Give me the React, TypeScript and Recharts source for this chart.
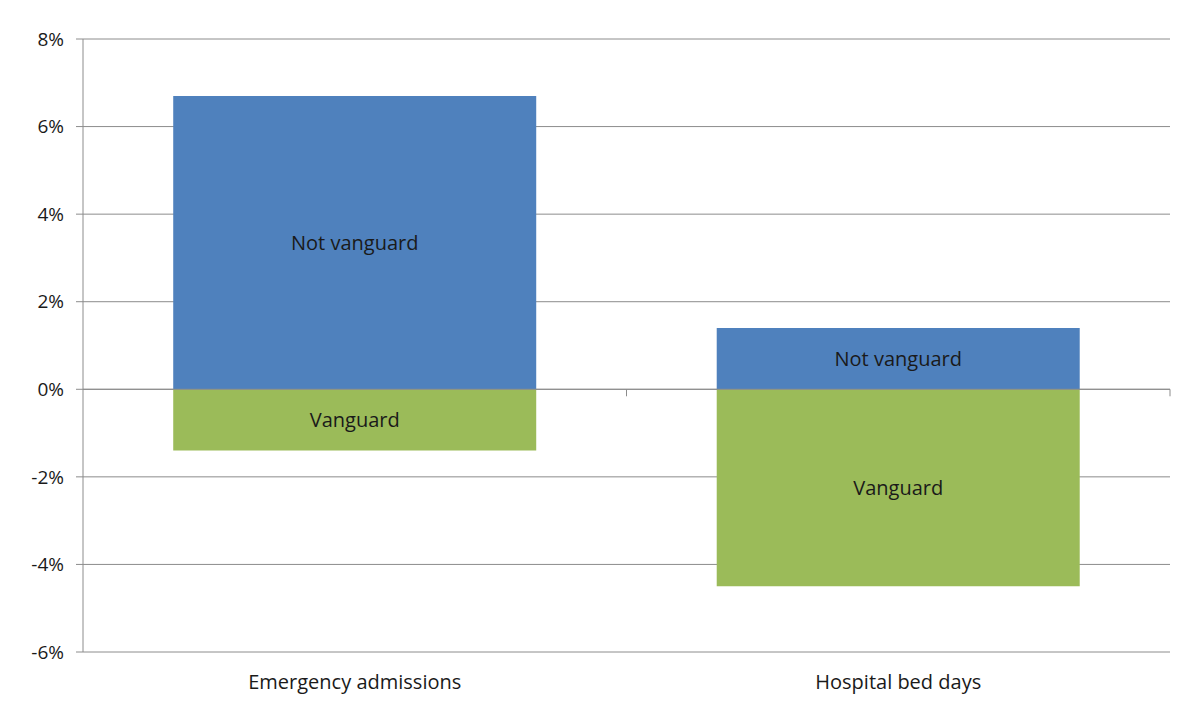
import React from 'react';
import { BarChart, Bar, XAxis, YAxis, CartesianGrid, ReferenceLine, LabelList } from 'recharts';

const categories = ['Emergency admissions', 'Hospital bed days'];
const notVanguard = [6.7, 1.4];
const vanguard = [-1.4, -4.5];
const yTicks = [-6, -4, -2, 0, 2, 4, 6, 8];

const data = categories.map((name, i) => ({
  name,
  notVanguard: notVanguard[i],
  vanguard: vanguard[i],
}));

const FONT = '"Open Sans", Lato, sans-serif';
const GRID = '#8c8c8c';
const TEXT = '#1a1a1a';

export default function App() {
  const last = categories[categories.length - 1];
  return (
    <div style={{ width: 1183, height: 704, background: '#fff' }}>
      <style>{`body { margin: 0; }`}</style>
      <BarChart
        width={1183}
        height={704}
        data={data}
        stackOffset="sign"
        barCategoryGap="16.6%"
        margin={{ top: 39, right: 13, bottom: 0, left: 0 }}
        style={{ fontFamily: FONT }}
      >
        <CartesianGrid vertical={false} stroke={GRID} />
        <XAxis
          dataKey="name"
          axisLine={false}
          tickLine={false}
          tickSize={0}
          tickMargin={23}
          height={52}
          tick={{ fill: TEXT, fontSize: 20 }}
        />
        <YAxis
          domain={[-6, 8]}
          ticks={yTicks}
          interval={0}
          width={83}
          tickSize={7}
          tickMargin={12}
          axisLine={{ stroke: GRID }}
          tickLine={{ stroke: GRID }}
          tickFormatter={(v) => `${v}%`}
          tick={{ fill: TEXT, fontSize: 19 }}
        />
        <ReferenceLine y={0} stroke={GRID} />
        <Bar dataKey="notVanguard" name="Not vanguard" stackId="a" fill="#4f81bd" isAnimationActive={false}>
          <LabelList position="center" formatter={() => 'Not vanguard'} fill={TEXT} fontSize={20} />
        </Bar>
        <Bar dataKey="vanguard" name="Vanguard" stackId="a" fill="#9bbb59" isAnimationActive={false}>
          <LabelList position="center" formatter={() => 'Vanguard'} fill={TEXT} fontSize={20} />
        </Bar>
        {/* small tick marks at the category boundaries on the zero line */}
        {categories.slice(1).map((c) => (
          <ReferenceLine
            key={c}
            segment={[{ x: c, y: 0 }, { x: c, y: -0.16 }]}
            position="start"
            stroke={GRID}
            ifOverflow="visible"
          />
        ))}
        <ReferenceLine
          segment={[{ x: last, y: 0 }, { x: last, y: -0.16 }]}
          position="end"
          stroke={GRID}
          ifOverflow="visible"
        />
      </BarChart>
    </div>
  );
}
